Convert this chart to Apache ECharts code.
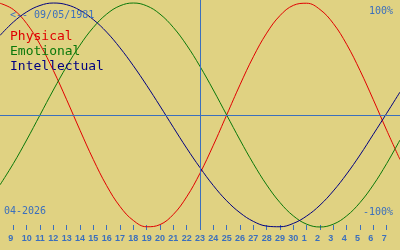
<!DOCTYPE html>
<html>
<head>
<meta charset="utf-8">
<script src="https://cdn.jsdelivr.net/npm/echarts@6/dist/echarts.min.js"></script>
<style>
html,body{margin:0;padding:0;background:#e0d282;}
#c{width:400px;height:250px;}
</style>
</head>
<body>
<div id="c"></div>
<script>
// Days shown: Apr 8 .. May 8 (2026)
const dayLabels = ['8','9','10','11','12','13','14','15','16','17','18','19','20','21','22','23','24','25','26','27','28','29','30','1','2','3','4','5','6','7','8'];
const physical = [0.998,0.942,0.817,0.631,0.398,0.136,-0.136,-0.398,-0.631,-0.817,-0.942,-0.998,-0.979,-0.888,-0.731,-0.520,-0.270,0,0.270,0.520,0.731,0.888,0.979,0.998,0.942,0.817,0.631,0.398,0.136,-0.136,-0.398];
const emotional = [-0.624,-0.434,-0.223,0,0.223,0.434,0.624,0.782,0.901,0.975,1,0.975,0.901,0.782,0.624,0.434,0.223,0,-0.223,-0.434,-0.624,-0.782,-0.901,-0.975,-1,-0.975,-0.901,-0.782,-0.624,-0.434,-0.223];
const intellectual = [0.710,0.830,0.920,0.978,1.000,0.985,0.935,0.852,0.740,0.600,0.440,0.265,0.080,-0.110,-0.296,-0.470,-0.630,-0.766,-0.873,-0.950,-0.992,-0.998,-0.968,-0.902,-0.805,-0.678,-0.527,-0.357,-0.172,0.015,0.205];
const seriesNames = ['Physical','Emotional','Intellectual'];
const seriesColors = ['#e00000','#0a780a','#000080'];
const todayLabel = '23';
const birthText = '<-- 09/05/1981';
const monthText = '04-2026';
const topText = '100%';
const bottomText = '-100%';

const blue = '#3b6fbd';
const mono = '"DejaVu Sans Mono", monospace';
const chart = echarts.init(document.getElementById('c'));
const lastIdx = dayLabels.length - 1;
const showIdx = (i) => i > 0 && i < lastIdx;

chart.setOption({
  backgroundColor: '#e0d282',
  animation: false,
  grid: {left: 0, right: 0, top: 0, bottom: 20, containLabel: false},
  xAxis: {
    type: 'category',
    data: dayLabels,
    boundaryGap: false,
    offset: -5,
    axisLine: {show: false, onZero: false},
    axisTick: {show: true, length: 5, interval: showIdx, lineStyle: {color: blue, width: 1}},
    axisLabel: {
      interval: showIdx, margin: 9, color: blue, fontSize: 9, fontWeight: 'bold',
      fontFamily: 'Liberation Sans, Arial, sans-serif',
      formatter: (v) => v.length === 1 ? v + '\u2007' : v
    },
    splitLine: {show: false}
  },
  yAxis: {type: 'value', min: -1.027, max: 1.027, show: false, splitLine: {show: false}},
  series: [
    {
      type: 'line', data: [], z: 1, silent: true,
      markLine: {
        silent: true, symbol: 'none', animation: false,
        label: {show: false},
        lineStyle: {color: blue, width: 1, type: 'solid'},
        emphasis: {disabled: true},
        data: [{yAxis: 0}, {xAxis: todayLabel}]
      }
    },
    ...seriesNames.map((n, k) => ({
      name: n, type: 'line', z: 2,
      data: [physical, emotional, intellectual][k],
      smooth: 0.4, symbol: 'none',
      lineStyle: {color: seriesColors[k], width: 1},
      itemStyle: {color: seriesColors[k]}
    }))
  ],
  graphic: [
    {type: 'text', left: 10, top: 10, z: 10, style: {text: birthText, fill: blue, font: '10px ' + mono}},
    {type: 'text', left: 10, top: 30, z: 10, style: {text: seriesNames[0], fill: seriesColors[0], font: '13px ' + mono}},
    {type: 'text', left: 10, top: 45, z: 10, style: {text: seriesNames[1], fill: seriesColors[1], font: '13px ' + mono}},
    {type: 'text', left: 10, top: 60, z: 10, style: {text: seriesNames[2], fill: seriesColors[2], font: '13px ' + mono}},
    {type: 'text', right: 7, top: 6, style: {text: topText, fill: blue, font: '10px ' + mono}},
    {type: 'text', right: 7, top: 207, style: {text: bottomText, fill: blue, font: '10px ' + mono}},
    {type: 'text', left: 4, top: 206, style: {text: monthText, fill: blue, font: '10px ' + mono}}
  ]
});
</script>
</body>
</html>
